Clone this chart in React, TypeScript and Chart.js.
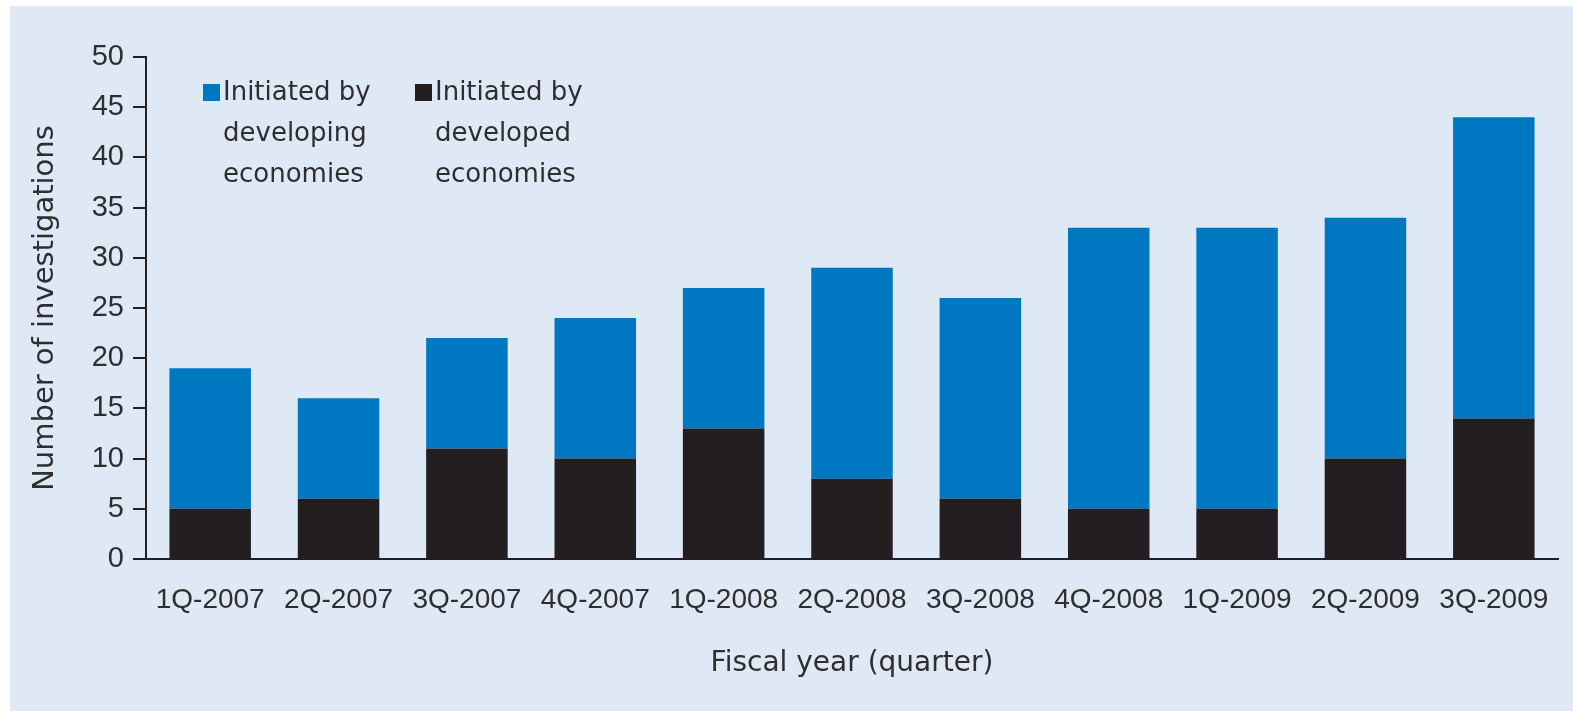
import React, { useEffect, useRef } from "react";
import { Chart, registerables } from "chart.js";

Chart.register(...registerables);

const categories = ["1Q-2007", "2Q-2007", "3Q-2007", "4Q-2007", "1Q-2008", "2Q-2008", "3Q-2008", "4Q-2008", "1Q-2009", "2Q-2009", "3Q-2009"];
const developedValues = [5, 6, 11, 10, 13, 8, 6, 5, 5, 10, 14];
const developingValues = [14, 10, 11, 14, 14, 21, 20, 28, 28, 24, 30];
const developingLabel = ["Initiated by", "developing", "economies"];
const developedLabel = ["Initiated by", "developed", "economies"];
const yTitle = "Number of investigations";
const xTitle = "Fiscal year (quarter)";

const BLUE = "#0077c1";
const DARK = "#231f20";
const TEXT = "#2e2e2e";
const FONT = "'DejaVu Sans', 'Liberation Sans', Arial, sans-serif";
const TICK_FONT = "'Liberation Sans', Arial, sans-serif";

const legendPlugin = {
  id: "innerLegend",
  afterDraw(chart: any) {
    const { ctx, chartArea } = chart;
    const items = [
      { color: BLUE, lines: developingLabel, dx: 57 },
      { color: DARK, lines: developedLabel, dx: 269 },
    ];
    ctx.save();
    ctx.font = `26px ${FONT}`;
    ctx.textBaseline = "middle";
    ctx.textAlign = "left";
    items.forEach((it) => {
      const bx = chartArea.left + it.dx;
      const by = chartArea.top + 27;
      ctx.fillStyle = it.color;
      ctx.fillRect(bx, by, 17, 17);
      ctx.fillStyle = TEXT;
      it.lines.forEach((line, i) => {
        ctx.fillText(line, bx + 20, by + 9 + i * 41);
      });
    });
    ctx.restore();
  },
};

export default function App() {
  const ref = useRef<HTMLCanvasElement | null>(null);
  useEffect(() => {
    if (!ref.current) return;
    const chart = new Chart(ref.current, {
      type: "bar",
      data: {
        labels: categories,
        datasets: [
          {
            label: developedLabel.join(" "),
            data: developedValues,
            backgroundColor: DARK,
            borderWidth: 0,
          },
          {
            label: developingLabel.join(" "),
            data: developingValues,
            backgroundColor: BLUE,
            borderWidth: 0,
          },
        ],
      },
      options: {
        responsive: false,
        animation: false,
        layout: { padding: { left: 0, top: 57, right: 15, bottom: 0 } },
        plugins: {
          legend: { display: false },
          tooltip: { enabled: false },
          title: { display: false },
        },
        datasets: {
          bar: { barPercentage: 0.635, categoryPercentage: 1 },
        },
        scales: {
          x: {
            stacked: true,
            grid: { display: false, drawTicks: false },
            border: { display: true, color: DARK, width: 2 },
            ticks: {
              color: TEXT,
              font: { family: TICK_FONT, size: 28 },
              padding: 24,
              maxRotation: 0,
              autoSkip: false,
            },
            title: {
              display: true,
              text: xTitle,
              color: TEXT,
              font: { family: FONT, size: 28 },
              padding: { top: 0, bottom: 30 },
            },
            afterFit(scale: any) {
              scale.height = 152;
            },
          },
          y: {
            stacked: true,
            min: 0,
            max: 50,
            ticks: {
              stepSize: 5,
              color: TEXT,
              font: { family: TICK_FONT, size: 29 },
              padding: 9,
            },
            grid: {
              display: true,
              drawOnChartArea: false,
              drawTicks: true,
              tickLength: 13,
              color: DARK,
              lineWidth: 2,
            },
            border: { display: true, color: DARK, width: 2 },
            title: {
              display: true,
              text: yTitle,
              color: TEXT,
              font: { family: FONT, size: 29 },
              padding: { top: 28, bottom: 0 },
            },
            afterFit(scale: any) {
              scale.width = 146;
            },
          },
        },
      },
      plugins: [legendPlugin],
    });
    return () => chart.destroy();
  }, []);

  return (
    <div style={{ position: "fixed", left: 0, top: 0, width: 1573, height: 711, background: "#ffffff", overflow: "hidden" }}>
      <div style={{ position: "absolute", left: 10, top: 6, right: 0, bottom: 0, background: "#dfe9f6" }} />
      <canvas ref={ref} width={1573} height={711} style={{ position: "absolute", left: 0, top: 0, width: 1573, height: 711 }} />
    </div>
  );
}
